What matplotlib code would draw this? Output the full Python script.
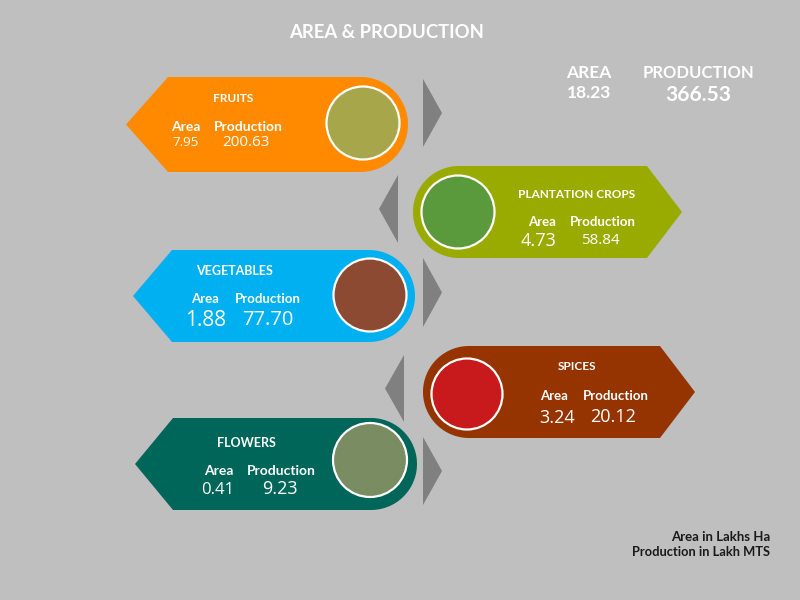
import numpy as np
import matplotlib
matplotlib.use('Agg')
import matplotlib.pyplot as plt
from matplotlib.patches import Polygon, Circle

categories = ['FRUITS', 'PLANTATION CROPS', 'VEGETABLES', 'SPICES', 'FLOWERS']
area = ['7.95', '4.73', '1.88', '3.24', '0.41']
production = ['200.63', '58.84', '77.70', '20.12', '9.23']
total_area = '18.23'
total_production = '366.53'

# styles / layout
colors = ['#ff8a00', '#9aab00', '#00b0f0', '#963400', '#00665a']
photo_colors = ['#a7a64a', '#5a9a3c', '#8c4a32', '#c81a1c', '#7a8c62']
sides = ['left', 'right', 'left', 'right', 'left']
# band geometry: (left x, right x, top y, bottom y, point depth)
bands = [(126, 408, 77, 172, 42), (413, 682, 166, 258, 35), (133, 415, 250, 342, 39),
         (423, 695, 346, 438, 35), (135, 417, 418, 510, 38)]
photos = [(363, 123, 36.5), (458, 212, 36.5), (370, 295, 36.5), (467, 394, 35.5), (370, 460, 37)]
tri = [(79, 147), (175, 243), (258, 327), (355, 422), (437, 505)]
head_pos = [(233, 99), (577, 194), (235, 271), (577, 367), (246, 443)]
area_pos = [(186, 127), (542, 222), (205, 299), (554, 396), (219, 471)]
prod_pos = [(248, 127), (603, 222), (268, 299), (616, 396), (281, 471)]
num_dy = [16, 19, 22, 22, 19]
num_size = [[9.5, 11], [13, 11], [15, 14.5], [13, 13], [12, 13]]
area_shift = [0, -3, 1, 3, -1]
prod_shift = [-2, -3, 0, -3, -1]
head_size = [8.5, 8.5, 9, 8.5, 9]
lab_size = [10, 9.5, 9.5, 9.5, 10]

BOLD = ['Lato', 'DejaVu Sans']
REG = ['Open Sans', 'DejaVu Sans']

fig = plt.figure(figsize=(8, 6), dpi=100)
fig.patch.set_facecolor('#bfbfbf')
ax = fig.add_axes([0, 0, 1, 1])
ax.set_xlim(0, 800)
ax.set_ylim(600, 0)
ax.axis('off')


def band_path(x0, x1, top, bot, d, side):
    yc = (top + bot) / 2
    r = (bot - top) / 2
    if side == 'left':
        # pointed on the left, rounded on the right
        t = np.linspace(-np.pi / 2, np.pi / 2, 60)
        arc = np.column_stack([x1 - r + r * np.cos(t), yc + r * np.sin(t)])
        pts = [(x0, yc), (x0 + d, top)] + [tuple(p) for p in arc] + [(x0 + d, bot)]
    else:
        # rounded on the left, pointed on the right
        t = np.linspace(np.pi / 2, 3 * np.pi / 2, 60)
        arc = np.column_stack([x0 + r + r * np.cos(t), yc + r * np.sin(t)])
        pts = [(x1 - d, top), (x1, yc), (x1 - d, bot)] + [tuple(p) for p in arc]
    return pts


for i, cat in enumerate(categories):
    x0, x1, top, bot, d = bands[i]
    ax.add_patch(Polygon(band_path(x0, x1, top, bot, d, sides[i]), closed=True,
                         facecolor=colors[i], edgecolor='none', zorder=2))
    cx, cy, r = photos[i]
    ax.add_patch(Circle((cx, cy), r, facecolor=photo_colors[i], edgecolor='white',
                        linewidth=1.6, zorder=3))
    # small gray pointers between the bands
    ty0, ty1 = tri[i]
    if sides[i] == 'left':
        tp = [(423, ty0), (442, (ty0 + ty1) / 2), (423, ty1)]
    else:
        tx = 398 if i == 1 else 404
        tp = [(tx, ty0), (tx - 19, (ty0 + ty1) / 2), (tx, ty1)]
    ax.add_patch(Polygon(tp, closed=True, facecolor='#808080', edgecolor='none', zorder=2))

    hx, hy = head_pos[i]
    ax.text(hx, hy, cat, color='white', fontsize=head_size[i], fontweight='bold',
            family=BOLD, ha='center', va='center', zorder=4)
    ax_, ay = area_pos[i]
    px, py = prod_pos[i]
    ax.text(ax_, ay, 'Area', color='white', fontsize=lab_size[i], fontweight='bold',
            family=BOLD, ha='center', va='center', zorder=4)
    ax.text(px, py, 'Production', color='white', fontsize=lab_size[i], fontweight='bold',
            family=BOLD, ha='center', va='center', zorder=4)
    ax.text(ax_ + area_shift[i], ay + num_dy[i], area[i], color='white', fontsize=num_size[i][0],
            family=REG, ha='center', va='center', zorder=4)
    ax.text(px + prod_shift[i], py + num_dy[i] - 1, production[i], color='white',
            fontsize=num_size[i][1], family=REG, ha='center', va='center', zorder=4)

ax.text(387, 33, 'AREA & PRODUCTION', color='white', fontsize=13.3, fontweight='bold',
        family=BOLD, ha='center', va='center')
ax.text(589, 73, 'AREA', color='white', fontsize=12.5, fontweight='bold', family=BOLD,
        ha='center', va='center')
ax.text(589, 93, total_area, color='white', fontsize=12.5, fontweight='bold', family=BOLD,
        ha='center', va='center')
ax.text(698, 73, 'PRODUCTION', color='white', fontsize=12, fontweight='bold', family=BOLD,
        ha='center', va='center')
ax.text(698, 95, total_production, color='white', fontsize=15, fontweight='bold', family=BOLD,
        ha='center', va='center')

ax.text(770, 537, 'Area in Lakhs Ha', color='#1a1a1a', fontsize=9.5, fontweight='bold',
        family=BOLD, ha='right', va='center')
ax.text(770, 552, 'Production in Lakh MTS', color='#1a1a1a', fontsize=9.3, fontweight='bold',
        family=BOLD, ha='right', va='center')

fig.savefig('out.png', dpi=100, facecolor=fig.get_facecolor())
